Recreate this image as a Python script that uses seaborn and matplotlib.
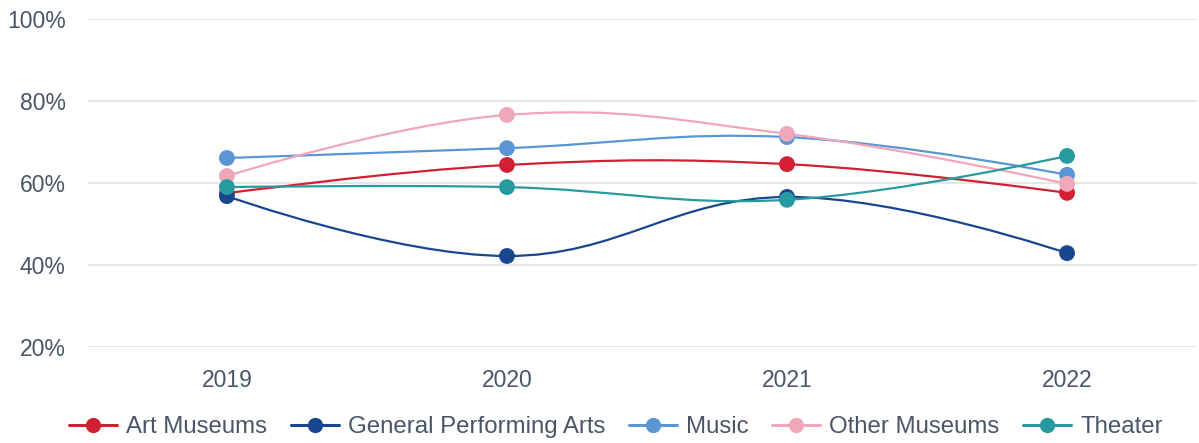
import numpy as np
import pandas as pd
import matplotlib
matplotlib.use("Agg")
import matplotlib.pyplot as plt
from matplotlib.path import Path
from matplotlib.patches import PathPatch
from matplotlib.lines import Line2D
import seaborn as sns

years = ["2019", "2020", "2021", "2022"]
series_names = ["Art Museums", "General Performing Arts", "Music", "Other Museums", "Theater"]
art_museums = [57.5, 64.4, 64.6, 57.6]
general_performing_arts = [56.8, 42.2, 56.6, 42.9]
music = [66.1, 68.5, 71.2, 62.0]
other_museums = [61.7, 76.6, 72.0, 59.8]
theater = [59.0, 59.0, 55.9, 66.6]
values = [art_museums, general_performing_arts, music, other_museums, theater]
colors = ["#d21f31", "#19468e", "#5a96d4", "#f0a7ba", "#279aa0"]
y_ticks = [20, 40, 60, 80, 100]

rows = []
for name, vals in zip(series_names, values):
    for i, (yr, v) in enumerate(zip(years, vals)):
        rows.append({"series": name, "year": yr, "x": i, "value": v})
df = pd.DataFrame(rows)

sns.set_theme(style="white")
plt.rcParams["font.family"] = ["Liberation Sans", "DejaVu Sans"]
text_color = "#4a5568"
fs = 16.5
lfs = 17.3

fig = plt.figure(figsize=(11.99, 4.43), dpi=100)
ax = fig.add_axes([88 / 1199, 1 - 347 / 443, (1197 - 88) / 1199, (347 - 19) / 443])


def spline_path(xs, ys, smoothing=1.5):
    denom = smoothing + 1
    n = len(xs)
    lc = [None] * n
    rc = [None] * n
    for i in range(n):
        if 0 < i < n - 1:
            px, py = xs[i], ys[i]
            lx, ly = xs[i - 1], ys[i - 1]
            nx, ny = xs[i + 1], ys[i + 1]
            lcx = (smoothing * px + lx) / denom
            lcy = (smoothing * py + ly) / denom
            rcx = (smoothing * px + nx) / denom
            rcy = (smoothing * py + ny) / denom
            if rcx != lcx:
                corr = ((rcy - lcy) * (rcx - px)) / (rcx - lcx) + py - rcy
                lcy += corr
                rcy += corr
            lc[i] = (lcx, lcy)
            rc[i] = (rcx, rcy)
        else:
            lc[i] = (xs[i], ys[i])
            rc[i] = (xs[i], ys[i])
    verts = [(xs[0], ys[0])]
    codes = [Path.MOVETO]
    for i in range(1, n):
        verts += [rc[i - 1], lc[i], (xs[i], ys[i])]
        codes += [Path.CURVE4] * 3
    return Path(verts, codes)


for name, col in zip(series_names, colors):
    sub = df[df["series"] == name]
    p = spline_path(list(sub["x"].astype(float)), list(sub["value"]))
    ax.add_patch(PathPatch(p, facecolor="none", edgecolor=col, lw=1.6, zorder=3))

sns.scatterplot(data=df, x="x", y="value", hue="series", palette=colors,
                hue_order=series_names, s=130, edgecolor="none", ax=ax,
                legend=False, zorder=4, clip_on=False)

ax.set_xlim(-0.496, 3.464)
ax.set_ylim(20, 100)
ax.set_yticks(y_ticks)
ax.set_yticklabels([f"{t}%" for t in y_ticks])
ax.set_xticks(range(len(years)))
ax.set_xticklabels(years)
ax.grid(axis="y", color="#e1e4e9", lw=1.3)
ax.set_axisbelow(True)
for s in ax.spines.values():
    s.set_visible(False)
ax.tick_params(axis="y", length=0, pad=16, labelsize=fs, labelcolor=text_color)
ax.tick_params(axis="x", length=0, pad=15.5, labelsize=fs, labelcolor=text_color)
ax.set_xlabel("")
ax.set_ylabel("")

handles = [Line2D([0], [0], color=c, lw=2.2, marker="o", markersize=11, markeredgewidth=0)
           for c in colors]
fig.legend(handles, series_names, loc="center", bbox_to_anchor=(616 / 1199, 1 - 427 / 443),
           ncol=5, frameon=False, fontsize=lfs, handlelength=2.0, handletextpad=0.38,
           columnspacing=0.98, labelcolor=text_color)

fig.savefig("out.png", dpi=100)
